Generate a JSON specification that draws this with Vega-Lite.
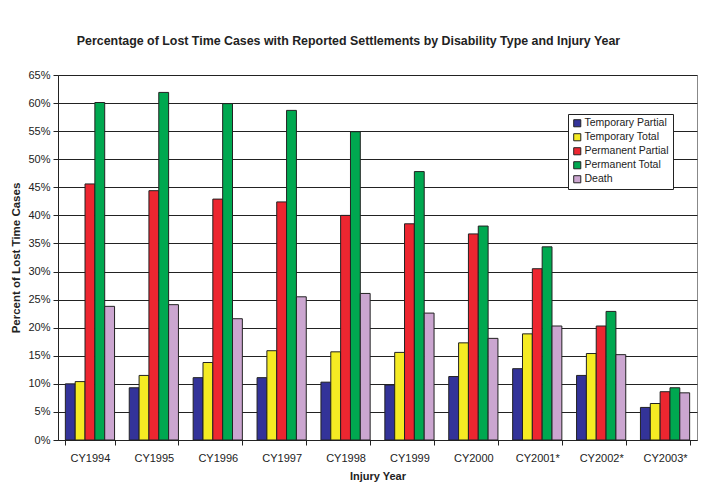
{
  "$schema": "https://vega.github.io/schema/vega-lite/v6.json",
  "width": 639,
  "height": 365,
  "autosize": "none",
  "padding": {"left": 58, "top": 75, "right": 11, "bottom": 54},
  "background": "white",
  "title": {
    "text": "Percentage of Lost Time Cases with Reported Settlements by Disability Type and Injury Year",
    "font": "Liberation Sans",
    "fontSize": 12.4,
    "fontWeight": "bold",
    "color": "#222",
    "anchor": "middle",
    "dx": -29,
    "offset": 22
  },
  "config": {
    "font": "Liberation Sans",
    "view": {"stroke": "#888", "strokeWidth": 1},
    "axis": {"labelFont": "Liberation Sans", "titleFont": "Liberation Sans", "labelColor": "#222", "titleColor": "#222"}
  },
  "data": {
    "values": [
      {"year": "CY1994", "type": "Temporary Partial", "pct": 10.0},
      {"year": "CY1994", "type": "Temporary Total", "pct": 10.4},
      {"year": "CY1994", "type": "Permanent Partial", "pct": 45.6},
      {"year": "CY1994", "type": "Permanent Total", "pct": 60.1},
      {"year": "CY1994", "type": "Death", "pct": 23.8},
      {"year": "CY1995", "type": "Temporary Partial", "pct": 9.3},
      {"year": "CY1995", "type": "Temporary Total", "pct": 11.5},
      {"year": "CY1995", "type": "Permanent Partial", "pct": 44.4},
      {"year": "CY1995", "type": "Permanent Total", "pct": 61.9},
      {"year": "CY1995", "type": "Death", "pct": 24.1},
      {"year": "CY1996", "type": "Temporary Partial", "pct": 11.1},
      {"year": "CY1996", "type": "Temporary Total", "pct": 13.8},
      {"year": "CY1996", "type": "Permanent Partial", "pct": 42.9},
      {"year": "CY1996", "type": "Permanent Total", "pct": 59.9},
      {"year": "CY1996", "type": "Death", "pct": 21.6},
      {"year": "CY1997", "type": "Temporary Partial", "pct": 11.1},
      {"year": "CY1997", "type": "Temporary Total", "pct": 15.9},
      {"year": "CY1997", "type": "Permanent Partial", "pct": 42.4},
      {"year": "CY1997", "type": "Permanent Total", "pct": 58.7},
      {"year": "CY1997", "type": "Death", "pct": 25.5},
      {"year": "CY1998", "type": "Temporary Partial", "pct": 10.3},
      {"year": "CY1998", "type": "Temporary Total", "pct": 15.7},
      {"year": "CY1998", "type": "Permanent Partial", "pct": 40.0},
      {"year": "CY1998", "type": "Permanent Total", "pct": 54.9},
      {"year": "CY1998", "type": "Death", "pct": 26.1},
      {"year": "CY1999", "type": "Temporary Partial", "pct": 9.8},
      {"year": "CY1999", "type": "Temporary Total", "pct": 15.6},
      {"year": "CY1999", "type": "Permanent Partial", "pct": 38.5},
      {"year": "CY1999", "type": "Permanent Total", "pct": 47.8},
      {"year": "CY1999", "type": "Death", "pct": 22.6},
      {"year": "CY2000", "type": "Temporary Partial", "pct": 11.3},
      {"year": "CY2000", "type": "Temporary Total", "pct": 17.3},
      {"year": "CY2000", "type": "Permanent Partial", "pct": 36.7},
      {"year": "CY2000", "type": "Permanent Total", "pct": 38.1},
      {"year": "CY2000", "type": "Death", "pct": 18.1},
      {"year": "CY2001*", "type": "Temporary Partial", "pct": 12.7},
      {"year": "CY2001*", "type": "Temporary Total", "pct": 18.9},
      {"year": "CY2001*", "type": "Permanent Partial", "pct": 30.5},
      {"year": "CY2001*", "type": "Permanent Total", "pct": 34.4},
      {"year": "CY2001*", "type": "Death", "pct": 20.3},
      {"year": "CY2002*", "type": "Temporary Partial", "pct": 11.5},
      {"year": "CY2002*", "type": "Temporary Total", "pct": 15.4},
      {"year": "CY2002*", "type": "Permanent Partial", "pct": 20.3},
      {"year": "CY2002*", "type": "Permanent Total", "pct": 22.9},
      {"year": "CY2002*", "type": "Death", "pct": 15.2},
      {"year": "CY2003*", "type": "Temporary Partial", "pct": 5.8},
      {"year": "CY2003*", "type": "Temporary Total", "pct": 6.5},
      {"year": "CY2003*", "type": "Permanent Partial", "pct": 8.6},
      {"year": "CY2003*", "type": "Permanent Total", "pct": 9.3},
      {"year": "CY2003*", "type": "Death", "pct": 8.4}
    ]
  },
  "mark": {"type": "bar", "stroke": "#222", "strokeWidth": 1},
  "encoding": {
    "x": {
      "field": "year",
      "type": "nominal",
      "sort": null,
      "scale": {"paddingInner": 0.23, "paddingOuter": 0.115},
      "axis": {
        "title": "Injury Year",
        "titleFontSize": 11,
        "titleFontWeight": "bold",
        "titlePadding": 7,
        "labelAngle": 0,
        "labelFontSize": 11,
        "labelPadding": 7,
        "domainColor": "#222",
        "tickColor": "#222",
        "tickBand": "extent",
        "tickSize": 5,
        "grid": false
      }
    },
    "xOffset": {
      "field": "type",
      "type": "nominal",
      "sort": ["Temporary Partial", "Temporary Total", "Permanent Partial", "Permanent Total", "Death"],
      "scale": {"paddingInner": 0, "paddingOuter": 0}
    },
    "y": {
      "field": "pct",
      "type": "quantitative",
      "scale": {"domain": [0, 65], "nice": false},
      "axis": {
        "title": "Percent of Lost Time Cases",
        "titleFontSize": 11.5,
        "titleFontWeight": "bold",
        "titlePadding": 6,
        "values": [0, 5, 10, 15, 20, 25, 30, 35, 40, 45, 50, 55, 60, 65],
        "labelExpr": "datum.value + '%'",
        "labelFontSize": 11,
        "labelPadding": 3,
        "tickSize": 5,
        "tickColor": "#222",
        "domainColor": "#222",
        "grid": true,
        "gridColor": "#222",
        "gridOpacity": 1,
        "gridWidth": 1
      }
    },
    "color": {
      "field": "type",
      "type": "nominal",
      "sort": ["Temporary Partial", "Temporary Total", "Permanent Partial", "Permanent Total", "Death"],
      "scale": {
        "domain": ["Temporary Partial", "Temporary Total", "Permanent Partial", "Permanent Total", "Death"],
        "range": ["#333399", "#F5EB23", "#ED2630", "#00A850", "#CBA6D0"]
      },
      "legend": {
        "title": null,
        "orient": "none",
        "legendX": 510,
        "legendY": 39,
        "symbolType": "square",
        "symbolSize": 50,
        "symbolStrokeColor": "#222",
        "symbolStrokeWidth": 1,
        "labelFontSize": 10.5,
        "labelFont": "Liberation Sans",
        "labelColor": "#222",
        "rowPadding": 2,
        "labelOffset": 2,
        "padding": 4,
        "strokeColor": "#222",
        "fillColor": "white"
      }
    }
  }
}
